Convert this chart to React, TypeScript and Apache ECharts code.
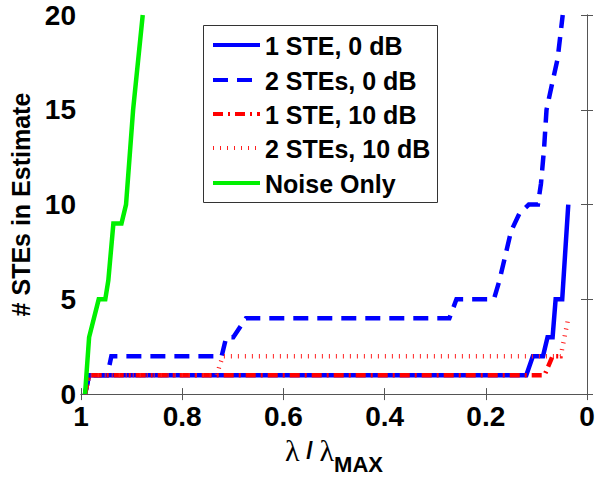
import React, { useEffect, useRef } from "react";
import * as echarts from "echarts";

const seriesNames = ["1 STE, 0 dB", "2 STEs, 0 dB", "1 STE, 10 dB", "2 STEs, 10 dB", "Noise Only"];

// [lambda / lambda_max, # STEs]
const ste1_0dB = [[0.992, 0], [0.984, 1], [0.12, 1], [0.107, 2], [0.087, 2], [0.078, 3], [0.068, 3], [0.062, 5], [0.049, 5], [0.037, 10]];
const ste2_0dB = [[0.992, 0], [0.984, 1], [0.948, 1], [0.94, 2], [0.722, 2], [0.713, 3], [0.699, 3], [0.674, 4], [0.272, 4], [0.258, 5], [0.184, 5], [0.173, 6], [0.15, 8.6], [0.134, 9.5], [0.115, 10], [0.097, 10], [0.091, 11.1], [0.085, 12.9], [0.08, 15], [0.068, 16.5], [0.058, 17.7], [0.048, 20]];
const ste1_10dB = [[0.992, 0], [0.984, 1], [0.084, 1], [0.068, 2], [0.052, 2]];
const ste2_10dB = [[0.992, 0], [0.984, 1], [0.732, 1], [0.72, 2], [0.052, 2], [0.037, 4]];
const noiseOnly = [[0.992, 0], [0.984, 3], [0.965, 5], [0.952, 5], [0.946, 6], [0.936, 9], [0.92, 9], [0.911, 10], [0.897, 15], [0.878, 20]];

const xTicks = { min: 0, max: 1, interval: 0.2 };
const yTicks = { min: 0, max: 20, interval: 5 };

const FONT = "'Liberation Sans', Arial, sans-serif";

const styles = [
  { color: "#0000ff", dash: null as number[] | null, width: 4.5 },
  { color: "#0000ff", dash: [15, 9], width: 4.5 },
  { color: "#ff0000", dash: [10, 5, 2, 5], width: 4.5 },
  { color: "#ff2020", dash: [1, 6], width: 4.5 },
  { color: "#00f000", dash: null, width: 4.5 },
];

export default function App() {
  const ref = useRef<HTMLDivElement>(null);
  useEffect(() => {
    if (!ref.current) return;
    const chart = echarts.init(ref.current, null, { renderer: "svg" });
    const axisLineColor = "#555";
    const mk = (i: number, data: number[][]) => ({
      name: seriesNames[i],
      type: "line",
      data,
      symbol: "none",
      clip: true,
      lineStyle: {
        color: styles[i].color,
        width: styles[i].width,
        type: styles[i].dash ? styles[i].dash : "solid",
        cap: "butt",
        join: "miter",
      },
      itemStyle: { color: styles[i].color },
    });

    const legendLeft = 203, legendTop = 25, legendW = 234, legendH = 177;
    const rowY = [45, 80, 114, 148, 183];
    const legendChildren: any[] = [
      {
        type: "rect",
        shape: { x: legendLeft + 0.5, y: legendTop + 0.5, width: legendW, height: legendH },
        style: { fill: "#fff", stroke: "#333", lineWidth: 1 },
      },
    ];
    seriesNames.forEach((name, i) => {
      legendChildren.push({
        type: "line",
        shape: { x1: 213, y1: rowY[i], x2: 260, y2: rowY[i] },
        style: {
          stroke: styles[i].color,
          lineWidth: 4,
          lineDash: styles[i].dash || undefined,
          lineCap: "butt",
        },
      });
      legendChildren.push({
        type: "text",
        x: 265,
        y: rowY[i] + 1,
        style: {
          text: name,
          fill: "#000",
          fontSize: 25,
          fontWeight: "bold",
          fontFamily: FONT,
          verticalAlign: "middle",
          align: "left",
        },
      });
    });

    chart.setOption({
      animation: false,
      backgroundColor: "#fff",
      textStyle: { fontFamily: FONT },
      grid: { left: 72, right: 13, top: 15, bottom: 75, containLabel: false },
      graphic: [{ type: "group", z: 100, children: legendChildren }],
      xAxis: [
        {
          type: "value",
          ...xTicks,
          inverse: true,
          position: "bottom",
          axisLine: { show: true, lineStyle: { color: axisLineColor, width: 1 } },
          axisTick: { show: true, inside: true, length: 6, lineStyle: { color: axisLineColor } },
          splitLine: { show: false },
          axisLabel: {
            color: "#000",
            fontSize: 28,
            fontWeight: "bold",
            margin: 8,
            formatter: (v: number) => String(+v.toFixed(1)),
          },
          name: "{l|λ}{s| / }{l|λ}{sub|MAX}",
          nameLocation: "middle",
          nameGap: 40,
          nameTextStyle: {
            color: "#000",
            rich: {
              l: { fontSize: 30, fontFamily: "'Liberation Serif', serif", color: "#000", padding: [0, 0, 10, 0] },
              s: { fontSize: 24, fontWeight: "bold", fontFamily: FONT, color: "#000", padding: [0, 0, 10, 0] },
              sub: { fontSize: 22, fontWeight: "bold", fontFamily: FONT, color: "#000", padding: [18, 0, 0, 0] },
            },
          },
        },
        {
          type: "value",
          ...xTicks,
          inverse: true,
          position: "top",
          axisLine: { show: true, lineStyle: { color: axisLineColor, width: 1 } },
          axisTick: { show: true, inside: true, length: 6, lineStyle: { color: axisLineColor } },
          axisLabel: { show: false },
          splitLine: { show: false },
        },
      ],
      yAxis: [
        {
          type: "value",
          ...yTicks,
          position: "left",
          axisLine: { show: true, lineStyle: { color: axisLineColor, width: 1 } },
          axisTick: { show: true, inside: true, length: 6, lineStyle: { color: axisLineColor } },
          splitLine: { show: false },
          axisLabel: { color: "#000", fontSize: 28, fontWeight: "bold", margin: 5 },
          name: "# STEs in Estimate",
          nameLocation: "middle",
          nameGap: 48,
          nameRotate: 90,
          nameTextStyle: { color: "#000", fontSize: 25, fontWeight: "bold", fontFamily: FONT },
        },
        {
          type: "value",
          ...yTicks,
          position: "right",
          axisLine: { show: true, lineStyle: { color: axisLineColor, width: 1 } },
          axisTick: { show: true, inside: true, length: 6, lineStyle: { color: axisLineColor } },
          axisLabel: { show: false },
          splitLine: { show: false },
        },
      ],
      series: [
        mk(0, ste1_0dB),
        mk(1, ste2_0dB),
        mk(2, ste1_10dB),
        mk(3, ste2_10dB),
        mk(4, noiseOnly),
      ],
    });
    return () => chart.dispose();
  }, []);
  return <div ref={ref} style={{ width: 600, height: 480, position: "absolute", left: 0, top: 0 }} />;
}
